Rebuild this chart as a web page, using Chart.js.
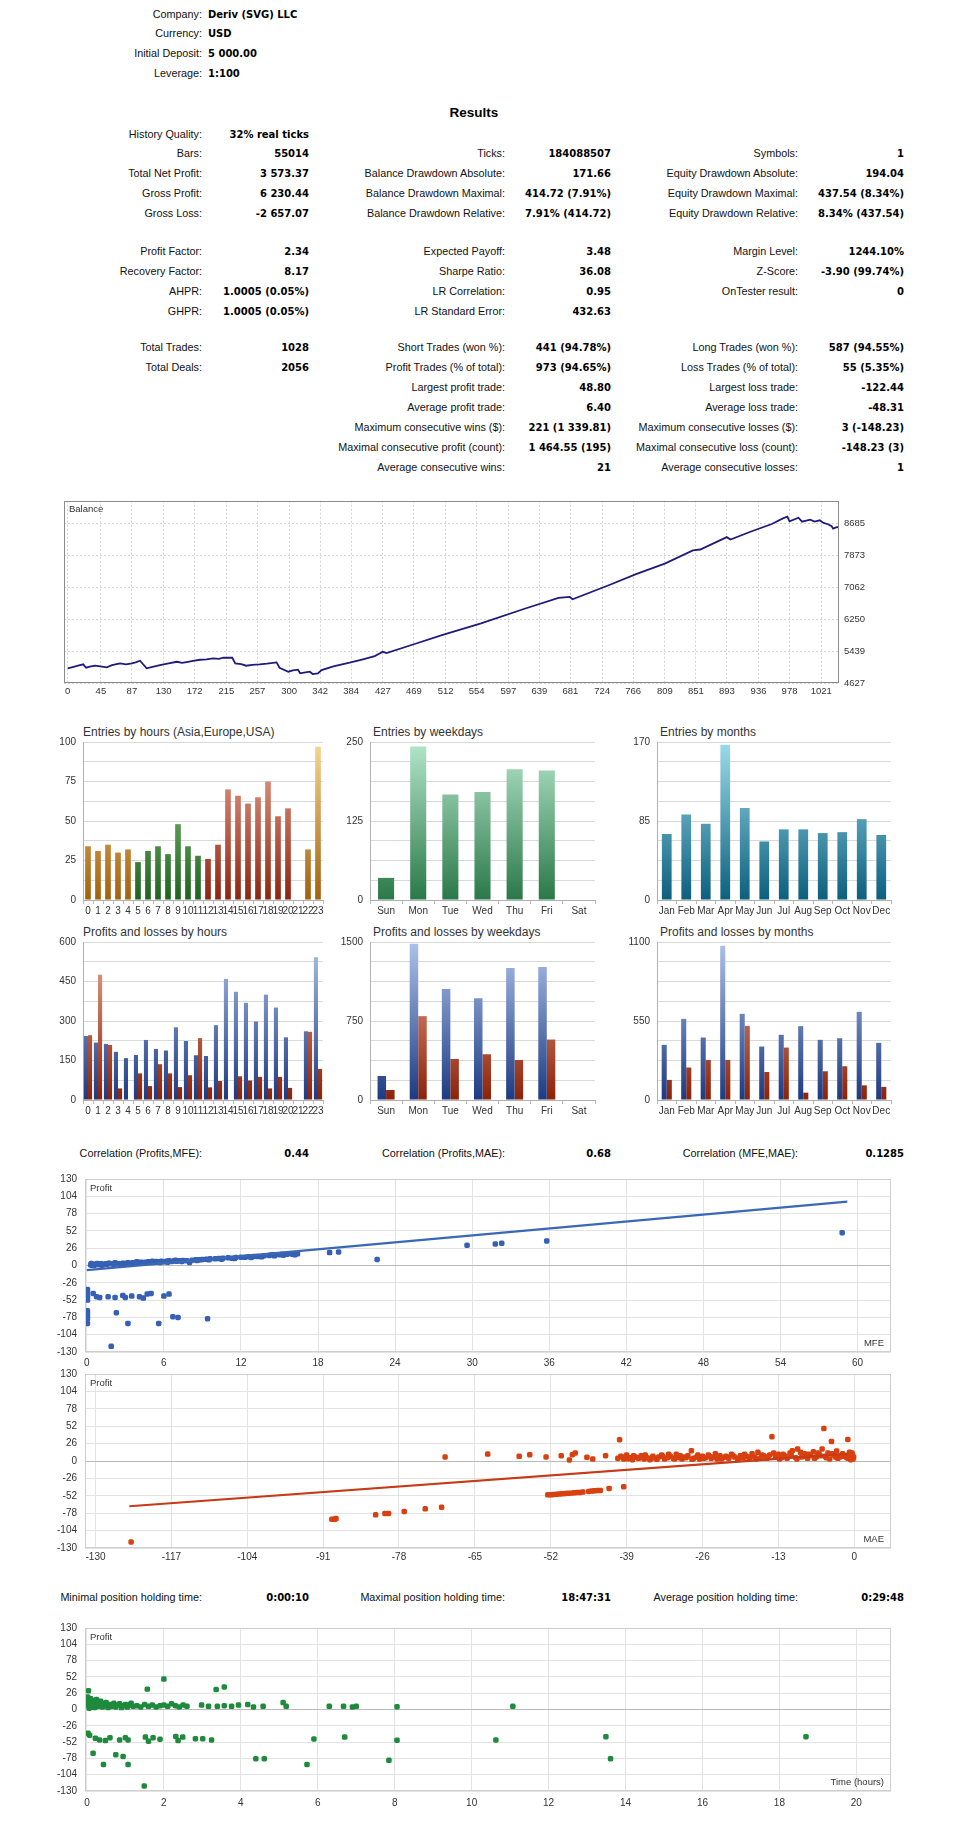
<!DOCTYPE html>
<html lang="en">
<head>
<meta charset="UTF-8">
<title>Strategy Tester Report</title>
<script src="https://cdn.jsdelivr.net/npm/chart.js@4"></script>
<style>
  body { margin: 0; background: #fff; }
  #page { position: relative; width: 979px; height: 1837px; overflow: hidden; font-family: "Liberation Sans", Arial, sans-serif; }
  .lbl { position: absolute; font-size: 10.8px; color: #111; white-space: nowrap; transform: translate(-100%, -50%); }
  .val { position: absolute; font: bold 10px "DejaVu Sans", sans-serif; color: #000; white-space: nowrap; transform: translate(-100%, -50%); }
  .val.left { transform: translate(0, -50%); }
  .head { position: absolute; font: bold 13.5px "Liberation Sans", Arial, sans-serif; transform: translate(-50%, -50%); }
  .ctitle { position: absolute; font-size: 12px; color: #333; white-space: nowrap; transform: translateY(-50%); }
  canvas { position: absolute; }
</style>
</head>
<body>
<div id="page"></div>
<script>
// ---- header / table texts ----
const headerRows = [["Company:", "Deriv (SVG) LLC"], ["Currency:", "USD"], ["Initial Deposit:", "5 000.00"], ["Leverage:", "1:100"]];
const headerY = [14, 33, 53, 73];
const labelRight = [202, 505, 798];
const valueRight = [309, 611, 904];
const resultRows = [
  [134, ["History Quality:", "32% real ticks"], null, null],
  [153, ["Bars:", "55014"], ["Ticks:", "184088507"], ["Symbols:", "1"]],
  [173, ["Total Net Profit:", "3 573.37"], ["Balance Drawdown Absolute:", "171.66"], ["Equity Drawdown Absolute:", "194.04"]],
  [193, ["Gross Profit:", "6 230.44"], ["Balance Drawdown Maximal:", "414.72 (7.91%)"], ["Equity Drawdown Maximal:", "437.54 (8.34%)"]],
  [213, ["Gross Loss:", "-2 657.07"], ["Balance Drawdown Relative:", "7.91% (414.72)"], ["Equity Drawdown Relative:", "8.34% (437.54)"]],
  [251, ["Profit Factor:", "2.34"], ["Expected Payoff:", "3.48"], ["Margin Level:", "1244.10%"]],
  [271, ["Recovery Factor:", "8.17"], ["Sharpe Ratio:", "36.08"], ["Z-Score:", "-3.90 (99.74%)"]],
  [291, ["AHPR:", "1.0005 (0.05%)"], ["LR Correlation:", "0.95"], ["OnTester result:", "0"]],
  [311, ["GHPR:", "1.0005 (0.05%)"], ["LR Standard Error:", "432.63"], null],
  [347, ["Total Trades:", "1028"], ["Short Trades (won %):", "441 (94.78%)"], ["Long Trades (won %):", "587 (94.55%)"]],
  [367, ["Total Deals:", "2056"], ["Profit Trades (% of total):", "973 (94.65%)"], ["Loss Trades (% of total):", "55 (5.35%)"]],
  [387, null, ["Largest profit trade:", "48.80"], ["Largest loss trade:", "-122.44"]],
  [407, null, ["Average profit trade:", "6.40"], ["Average loss trade:", "-48.31"]],
  [427, null, ["Maximum consecutive wins ($):", "221 (1 339.81)"], ["Maximum consecutive losses ($):", "3 (-148.23)"]],
  [447, null, ["Maximal consecutive profit (count):", "1 464.55 (195)"], ["Maximal consecutive loss (count):", "-148.23 (3)"]],
  [467, null, ["Average consecutive wins:", "21"], ["Average consecutive losses:", "1"]],
  [1153, ["Correlation (Profits,MFE):", "0.44"], ["Correlation (Profits,MAE):", "0.68"], ["Correlation (MFE,MAE):", "0.1285"]],
  [1597, ["Minimal position holding time:", "0:00:10"], ["Maximal position holding time:", "18:47:31"], ["Average position holding time:", "0:29:48"]]
];

// ---- balance curve ----
const balanceTrade = [0, 8, 14, 21, 25, 30, 37, 44, 53, 60, 71, 79, 87, 92, 98, 107, 115, 125, 135, 148,
  155, 161, 170, 179, 188, 197, 205, 211, 223, 227, 235, 242, 250, 260, 270, 283, 287, 299, 305, 312,
  315, 322, 328, 332, 339, 344, 360, 382, 400, 416, 427, 432, 470, 507, 560, 620, 665, 680, 684, 733,
  770, 809, 847, 857, 893, 898, 925, 954, 969, 975, 978, 990, 995, 1006, 1012, 1019, 1024, 1030, 1035, 1037,
  1041, 1045];
const balanceValue = [5000, 5040, 5070, 5102, 5016, 5045, 5067, 5050, 5026, 5080, 5127, 5100, 5127, 5150, 5193, 5000, 5040, 5084, 5120, 5168,
  5140, 5160, 5190, 5219, 5230, 5254, 5240, 5270, 5270, 5127, 5110, 5067, 5090, 5100, 5120, 5152, 5016, 4914, 4950, 4965,
  4873, 4900, 4914, 4855, 4870, 4957, 5050, 5143, 5230, 5312, 5422, 5389, 5620, 5846, 6143, 6524, 6794, 6820, 6760, 7116,
  7400, 7667, 8005, 8027, 8342, 8279, 8480, 8677, 8820, 8862, 8743, 8837, 8736, 8787, 8736, 8770, 8703, 8670, 8623, 8557,
  8590, 8600];
const balanceXTicks = [0, 45, 87, 130, 172, 215, 257, 300, 342, 384, 427, 469, 512, 554, 597, 639, 681, 724, 766, 809, 851, 893, 936, 978, 1021];
const balanceYTicks = [4627, 5439, 6250, 7062, 7873, 8685];

// ---- entries / profits & losses ----
const hours = ["0","1","2","3","4","5","6","7","8","9","10","11","12","13","14","15","16","17","18","19","20","21","22","23"];
const hourSession = ["A","A","A","A","A","E","E","E","E","E","E","E","U","U","U","U","U","U","U","U","U","U","A","A"];
const entriesByHour = [34, 31, 35, 30, 32, 24, 31, 34, 29, 48, 34, 28, 26, 35, 70, 66, 61, 65, 75, 53, 58, 0, 32, 97];
const profitByHour = [243, 218, 213, 183, 159, 171, 228, 194, 188, 276, 224, 170, 167, 284, 460, 411, 369, 298, 400, 351, 238, 0, 261, 542];
const lossByHour = [246, 476, 209, 44, 0, 101, 53, 136, 101, 49, 94, 235, 48, 72, 0, 90, 74, 88, 44, 88, 46, 0, 259, 118];
const weekdays = ["Sun", "Mon", "Tue", "Wed", "Thu", "Fri", "Sat"];
const entriesByWeekday = [35, 243, 167, 171, 207, 205, 0];
const profitByWeekday = [228, 1484, 1053, 967, 1253, 1262, 0];
const lossByWeekday = [95, 796, 390, 434, 380, 574, 0];
const months = ["Jan", "Feb", "Mar", "Apr", "May", "Jun", "Jul", "Aug", "Sep", "Oct", "Nov", "Dec"];
const entriesByMonth = [71, 92, 82, 167, 99, 63, 76, 76, 72, 73, 87, 70];
const profitByMonth = [384, 565, 435, 1074, 600, 372, 454, 514, 419, 430, 614, 398];
const lossByMonth = [140, 226, 279, 279, 516, 195, 365, 51, 200, 235, 102, 91];

// ---- MFE / MAE / holding time scatter ----
const mfePoints = [[0.3,1],[0.4,0.5],[0.5,1.5],[0.6,1],[0.7,2],[0.8,1.5],[0.9,2],[1.0,1],[1.1,2.5],[1.2,2],[1.3,1.5],[1.5,2.5],[1.6,2],[1.8,3],[2.0,2.5],[2.1,1.5],[2.3,3],[2.5,2.5],[2.6,1],[2.8,3.5],
  [3.0,3],[3.2,4],[3.4,3.5],[3.6,4],[3.8,4.5],[4.0,4],[4.2,5],[4.4,4.5],[4.6,5],[4.8,5.5],[5.0,4.5],[5.2,5.5],[5.4,6],[5.6,5.5],[5.8,6.5],[6.0,5.5],[6.2,6.5],[6.4,7],[6.6,6],[6.8,7],
  [7.0,6.5],[7.2,7],[7.5,7.5],[7.8,7],[8.0,4.5],[8.2,8],[8.5,8.5],[8.8,8.5],[9.0,9],[9.3,9.5],[9.6,10],[10.0,10],[10.3,10.5],[10.6,11],[11.0,11.5],[11.3,11],[11.6,12],[12.0,12.5],[12.3,12.5],[12.6,13],
  [13.0,13.5],[13.3,13.5],[13.8,14.5],[14.2,15],[14.6,14.5],[15.0,16],[15.3,15.5],[15.6,17],[16.0,17],[16.4,17.5],
  [0.35,3],[0.55,0],[0.8,3],[1.2,0.5],[1.7,3.5],[2.2,4],[2.7,2],[3.3,2],[3.9,5.5],[4.5,3.5],[5.1,6.5],[5.7,4.5],[6.3,5],[6.9,8],[7.4,6],[8.6,7.5],[9.5,8.5],[10.5,9.5],[11.5,10.5],[12.8,12],
  [13.6,13],[14.4,16],[15.2,17],[16.2,16],
  [18.9,19.4],[19.6,20.4],[22.6,9],[29.6,30.4],[31.8,32.4],[32.3,33.4],[35.8,36.9],[58.8,49.3],
  [0.05,-36],[0.05,-40],[0.05,-44],[0.05,-48],[0.05,-52],[0.05,-68],[0.05,-72],[0.05,-76],[0.05,-80],[0.05,-87],
  [0.5,-42],[0.76,-47],[1.0,-48],[1.66,-47],[2.2,-48],[2.8,-45],[3.0,-48],[3.5,-46],[4.1,-47],[4.4,-49],[4.7,-43],[5.0,-42],[6.0,-46],[6.4,-43],
  [2.3,-71],[3.2,-87],[5.6,-87],[6.7,-77],[7.1,-78],[9.4,-80],[1.9,-121.5]];
const mfeTrend = [[0, -7], [59.2, 96]];
const maePoints = [[-123.9,-121],[-89.5,-87],[-89,-87],[-88.8,-86],[-82,-80.4],[-80.4,-78.4],[-79.8,-78.4],[-77.1,-75.4],[-73.5,-71.5],[-70.7,-69],
  [-52.5,-50.6],[-52,-50.5],[-51.5,-50],[-51,-49.6],[-50.5,-49.3],[-50,-49],[-49.5,-48.6],[-49,-48.3],[-48.5,-48],[-48,-47.6],[-47.5,-47.2],[-47,-47],[-46.5,-46.5],[-45.5,-45.6],[-45,-45],[-44.5,-44.6],[-44,-44.2],[-43.5,-44],[-42,-41],[-39.5,-38.5],
  [-70.1,6],[-62.8,10.4],[-57.4,7],[-55.6,9.4],[-52.8,6],[-50.2,8],[-48.8,1.5],[-48.3,9.4],[-47.8,12],[-45.8,5.5],[-44.8,3],[-42.6,8],[-40.2,31.8],
  [-40.5,4],[-40,7],[-39.5,3],[-39,9],[-38.5,5],[-38,2],[-37.5,6],[-37,4],[-36.5,8],[-36,3],[-35.5,5],[-35,2],[-34.5,7],[-34,4],[-33.5,6],[-33,9],[-32.5,3],[-32,5],[-31.5,7],[-31,4],
  [-30.5,10],[-30,5],[-29.5,3],[-29,6],[-28.5,8],[-27.9,15.4],[-27.5,4],[-27,6],[-26.5,3],[-26,7],[-25.5,5],[-25,9],[-24.5,4],[-24,6],[-23.5,3],[-23,8],[-22.5,5],[-22,7],[-21.5,4],[-21,10],
  [-20.5,6],[-20,3],[-19.5,8],[-19,5],[-18.5,7],[-18,4],[-17.5,11],[-17,6],[-16.5,13],[-16,5],[-15.5,8],[-15,4],[-14.5,9],[-14.1,36.2],[-13.5,6],[-13,10],[-12.5,5],[-12,8],[-11.5,4],[-11,12],
  [-10.6,15.4],[-10,5],[-9.7,18],[-9,6],[-8.5,11],[-8,4],[-7.5,8],[-7,14],[-6.5,6],[-6,10],[-5.5,18],[-5.2,48.6],[-5,7],[-4.5,12],[-3.9,29.3],[-3.5,9],[-3,15],[-2.5,6],[-2,11],[-1.5,8],
  [-1.1,32.3],[-1,4],[-0.8,13],[-0.5,7],[-0.3,10],[-0.2,3],[-0.1,6],
  [-39.8,6],[-38.8,3.5],[-37.8,8],[-36.8,5],[-35.8,9],[-34.8,4],[-33.8,2.5],[-32.8,7],[-31.8,10],[-30.8,3],[-29.8,8],[-28.8,5],[-27.8,2.5],[-26.8,9],[-25.8,4],[-24.8,7],[-23.8,11],[-22.8,3],[-21.8,6],[-20.8,8],
  [-19.8,4],[-18.8,10],[-17.8,6],[-16.8,3],[-15.8,9],[-14.8,6],[-13.8,12],[-12.8,3],[-11.8,7],[-10.8,9],[-9.8,3],[-8.8,7],[-7.8,10],[-6.8,4],[-5.8,8],[-4.8,5],[-3.8,11],[-2.8,4],[-1.8,7],[-0.9,9],
  [-0.6,2],[-0.4,12],[-1.3,5],[-2.2,8],[-3.2,6],[-4.2,3],[-6.2,12],[-8.2,7],[-9.2,13],[-12.2,10]];
const maeTrend = [[-124.2, -67.6], [-1, 11]];
const holdPoints = [[0.02,20],[0.03,12],[0.04,6],[0.05,15],[0.06,2],[0.08,9],[0.1,17],[0.12,4],[0.14,11],[0.16,7],[0.18,14],[0.2,3],[0.22,9],[0.25,16],[0.28,5],[0.3,11],[0.33,7],[0.36,13],[0.4,4],[0.43,9],
  [0.46,6],[0.5,11],[0.55,3],[0.6,8],[0.65,5],[0.7,10],[0.75,4],[0.8,7],[0.85,9],[0.9,3],[0.95,6],[1.0,8],[1.05,4],[1.1,7],[1.15,10],[1.2,5],[1.3,6],[1.4,4],[1.5,8],[1.6,5],
  [1.7,7],[1.8,4],[1.9,6],[2.0,7],[2.1,5],[2.2,9],[2.3,6],[2.4,4],[2.5,7],[2.6,5],[0.04,30],[1.57,32.5],[2.0,48.5],[3.36,32],[3.57,36],
  [2.98,7],[3.16,5],[3.39,5],[3.57,6],[3.76,5],[3.94,7],[4.18,8],[4.33,4],[4.58,5],[5.1,11],[5.18,5],[6.3,5],[6.67,5],[6.9,4],[7.0,5],[8.06,4.5],[11.07,5],
  [0.03,-38],[0.07,-41],[0.22,-46],[0.33,-48.5],[0.48,-49.5],[0.6,-45],[0.85,-48.5],[1.0,-45],[1.07,-48.5],[1.52,-44],[1.6,-50.5],[1.72,-45],[1.9,-47.5],[2.31,-43],[2.37,-49.5],[2.49,-44],[2.82,-46.5],[3.01,-46.5],[3.24,-48.5],
  [5.9,-47],[6.7,-44],[8.06,-49],[10.63,-48.5],[13.49,-43.3],[18.69,-43.3],
  [0.16,-69.7],[0.43,-87.7],[0.75,-72],[0.94,-75],[1.07,-87.7],[1.49,-122],[4.39,-78.4],[4.61,-78.4],[5.72,-87.7],[7.85,-81],[13.61,-78.4]];
const profitTicks = [-130, -104, -78, -52, -26, 0, 26, 52, 78, 104, 130];
const mfeTicks = [0, 6, 12, 18, 24, 30, 36, 42, 48, 54, 60];
const maeTicks = [-130, -117, -104, -91, -78, -65, -52, -39, -26, -13, 0];
const holdTicks = [0, 2, 4, 6, 8, 10, 12, 14, 16, 18, 20];

// ---- page text ----
const page = document.getElementById('page');
function put(cls, text, x, y) {
  const d = document.createElement('div');
  d.className = cls; d.textContent = text;
  d.style.left = x + 'px'; d.style.top = y + 'px';
  page.appendChild(d);
}
headerRows.forEach((r, i) => { put('lbl', r[0], labelRight[0], headerY[i]); put('val left', r[1], 208, headerY[i]); });
put('head', 'Results', 474, 112);
resultRows.forEach(row => {
  const y = row[0];
  for (let c = 0; c < 3; c++) {
    const cell = row[c + 1];
    if (!cell) continue;
    put('lbl', cell[0], labelRight[c], y);
    put('val', cell[1], valueRight[c], y);
  }
});
[["Entries by hours (Asia,Europe,USA)", 83, 732], ["Entries by weekdays", 373, 732], ["Entries by months", 660, 732],
 ["Profits and losses by hours", 83, 932], ["Profits and losses by weekdays", 373, 932], ["Profits and losses by months", 660, 932]]
  .forEach(t => put('ctitle', t[0], t[1], t[2]));

// ---- chart helpers ----
Chart.defaults.font.family = '"Liberation Sans", Arial, sans-serif';
Chart.defaults.font.size = 10;
Chart.defaults.color = '#333';
Chart.defaults.animation = false;
Chart.defaults.events = [];
Chart.defaults.plugins.legend.display = false;
Chart.defaults.plugins.tooltip.enabled = false;

function addCanvas(left, top, w, h) {
  const c = document.createElement('canvas');
  c.width = w; c.height = h;
  c.style.left = left + 'px'; c.style.top = top + 'px';
  page.appendChild(c);
  return c;
}

const plotDecor = {
  id: 'plotDecor',
  afterDraw(chart, args, opts) {
    const { ctx, chartArea: a } = chart;
    ctx.save();
    if (opts.frame) {
      ctx.strokeStyle = opts.frame; ctx.lineWidth = 1;
      ctx.strokeRect(Math.round(a.left) + 0.5, Math.round(a.top) + 0.5, Math.round(a.width) - 1, Math.round(a.height) - 1);
    }
    ctx.font = '9.5px "Liberation Sans", Arial, sans-serif';
    ctx.fillStyle = '#333';
    if (opts.tl) { ctx.textAlign = 'left'; ctx.textBaseline = 'middle'; ctx.fillText(opts.tl, a.left + 5, a.top + 9); }
    if (opts.br) { ctx.textAlign = 'right'; ctx.textBaseline = 'middle'; ctx.fillText(opts.br, a.right - 7, a.bottom - 9); }
    ctx.restore();
  }
};

function vgrad(chart, bottom, top) {
  const a = chart.chartArea;
  if (!a) return bottom;
  const g = chart.ctx.createLinearGradient(0, a.bottom, 0, a.top);
  g.addColorStop(0, bottom);
  g.addColorStop(1, top);
  return g;
}
const palette = {
  A: ['#a3600c', '#f7d894'], E: ['#1c631c', '#9ed88e'], U: ['#8e2410', '#eeaa96'],
  week: ['#2a7848', '#b4e6ca'], month: ['#0b5f7e', '#9cdcea'],
  profit: ['#1d3a82', '#adc2ea'], loss: ['#8c2208', '#eeaa92']
};

// ---- balance ----
new Chart(addCanvas(60, 490, 820, 218), {
  type: 'line',
  data: { datasets: [{ data: balanceTrade.map((t, i) => ({ x: t, y: balanceValue[i] })), borderColor: '#1f1b7a', borderWidth: 1.8, pointRadius: 0, tension: 0 }] },
  options: {
    responsive: false,
    layout: { padding: { left: 4, top: 4, right: 0, bottom: 0 } },
    scales: {
      x: { type: 'linear', min: -5, max: 1045,
        afterBuildTicks: s => { s.ticks = balanceXTicks.map(v => ({ value: v })); },
        afterFit: s => { s.height = 25; },
        grid: { color: '#d4d4d4', drawTicks: false }, border: { display: false, dash: [2, 2] },
        ticks: { padding: 3, font: { size: 9.5 }, autoSkip: false, maxRotation: 0, callback: v => String(v) } },
      y: { position: 'right', min: 4627, max: 9270,
        afterBuildTicks: s => { s.ticks = balanceYTicks.map(v => ({ value: v })); },
        afterFit: s => { s.width = 41; },
        grid: { color: '#d4d4d4', drawTicks: false }, border: { display: false, dash: [2, 2] },
        ticks: { padding: 5, font: { size: 9.5 }, callback: v => String(v) } }
    },
    plugins: { plotDecor: { frame: '#8c8c8c', tl: 'Balance' } }
  },
  plugins: [plotDecor]
});

// ---- bar charts ----
function barChart(left, top, width, labels, datasets, max, step, every, catPct, barPct) {
  return new Chart(addCanvas(left, top, width, 191), {
    type: 'bar',
    data: { labels: labels, datasets: datasets },
    options: {
      responsive: false,
      layout: { padding: { left: 0, top: 2, right: 3, bottom: 0 } },
      datasets: { bar: { categoryPercentage: catPct, barPercentage: barPct } },
      scales: {
        x: { afterFit: s => { s.height = 20; },
          grid: { drawOnChartArea: false, drawTicks: true, tickLength: 4, color: '#b8b8b8' },
          border: { color: '#b0b0b0' },
          ticks: { autoSkip: false, maxRotation: 0, padding: 1, font: { size: 10 } } },
        y: { min: 0, max: max, afterFit: s => { s.width = 33; },
          grid: { color: '#d9d9d9', drawTicks: false }, border: { color: '#b0b0b0' },
          ticks: { stepSize: step, padding: 7, font: { size: 10 },
            callback: v => (Math.abs(v / every - Math.round(v / every)) < 1e-6 ? String(v) : '') } }
      }
    }
  });
}
function gradSet(data, key) {
  return { data: data, backgroundColor: c => vgrad(c.chart, palette[key][0], palette[key][1]) };
}

barChart(50, 729, 276, hours, [{ data: entriesByHour,
  backgroundColor: c => { const p = palette[hourSession[c.dataIndex]]; return vgrad(c.chart, p[0], p[1]); } }],
  100, 12.5, 25, 1, 0.57);
barChart(337, 729, 261, weekdays, [gradSet(entriesByWeekday, 'week')], 250, 31.25, 125, 1, 0.5);
barChart(624, 729, 270, months, [gradSet(entriesByMonth, 'month')], 170, 21.25, 85, 1, 0.5);
barChart(50, 929, 276, hours, [gradSet(profitByHour, 'profit'), gradSet(lossByHour, 'loss')], 600, 75, 150, 0.82, 1);
barChart(337, 929, 261, weekdays, [gradSet(profitByWeekday, 'profit'), gradSet(lossByWeekday, 'loss')], 1500, 187.5, 750, 0.53, 1);
barChart(624, 929, 270, months, [gradSet(profitByMonth, 'profit'), gradSet(lossByMonth, 'loss')], 1100, 137.5, 550, 0.52, 1);

// ---- scatter charts ----
function scatterChart(top, height, padTop, points, trend, color, lineColor, xMin, xMax, xTicks, xPad, cornerLabel) {
  const datasets = [{ data: points, backgroundColor: color, borderWidth: 0, pointStyle: 'rectRounded', pointRadius: 3.2 }];
  if (trend) datasets.unshift({ data: trend, showLine: true, pointRadius: 0, borderColor: lineColor, borderWidth: 2.2 });
  return new Chart(addCanvas(50, top, 845, height), {
    type: 'scatter',
    data: { datasets: datasets },
    options: {
      responsive: false,
      layout: { padding: { left: 0, top: padTop, right: 3, bottom: 0 } },
      scales: {
        x: { type: 'linear', min: xMin, max: xMax,
          afterBuildTicks: s => { s.ticks = xTicks.map(v => ({ value: v })); },
          afterFit: s => { s.height = 18; },
          grid: { color: '#e3e3e3', drawTicks: false }, border: { display: false },
          ticks: { padding: xPad, font: { size: 10 }, autoSkip: false, maxRotation: 0, callback: v => String(v) } },
        y: { min: -130, max: 130,
          afterBuildTicks: s => { s.ticks = profitTicks.map(v => ({ value: v })); },
          afterFit: s => { s.width = 35; },
          grid: { color: c => (c.tick && c.tick.value === 0 ? '#b9b9b9' : '#e3e3e3'), drawTicks: false }, border: { display: false },
          ticks: { padding: 8, font: { size: 10 }, callback: v => String(v) } }
      },
      plugins: { plotDecor: { frame: '#cfcfcf', tl: 'Profit', br: cornerLabel } }
    },
    plugins: [plotDecor]
  });
}

scatterChart(1165, 205, 2, mfePoints, mfeTrend, '#3560b4', '#3b68b6', -0.14, 62.6, mfeTicks, 5, 'MFE');
scatterChart(1360, 206, 2, maePoints, maeTrend, '#d8400f', '#c63a16', -131.8, 6.3, maeTicks, 3, 'MAE');
scatterChart(1614, 195, 8, holdPoints, null, '#1e8a3c', null, -0.05, 20.9, holdTicks, 6, 'Time (hours)');
</script>
</body>
</html>
